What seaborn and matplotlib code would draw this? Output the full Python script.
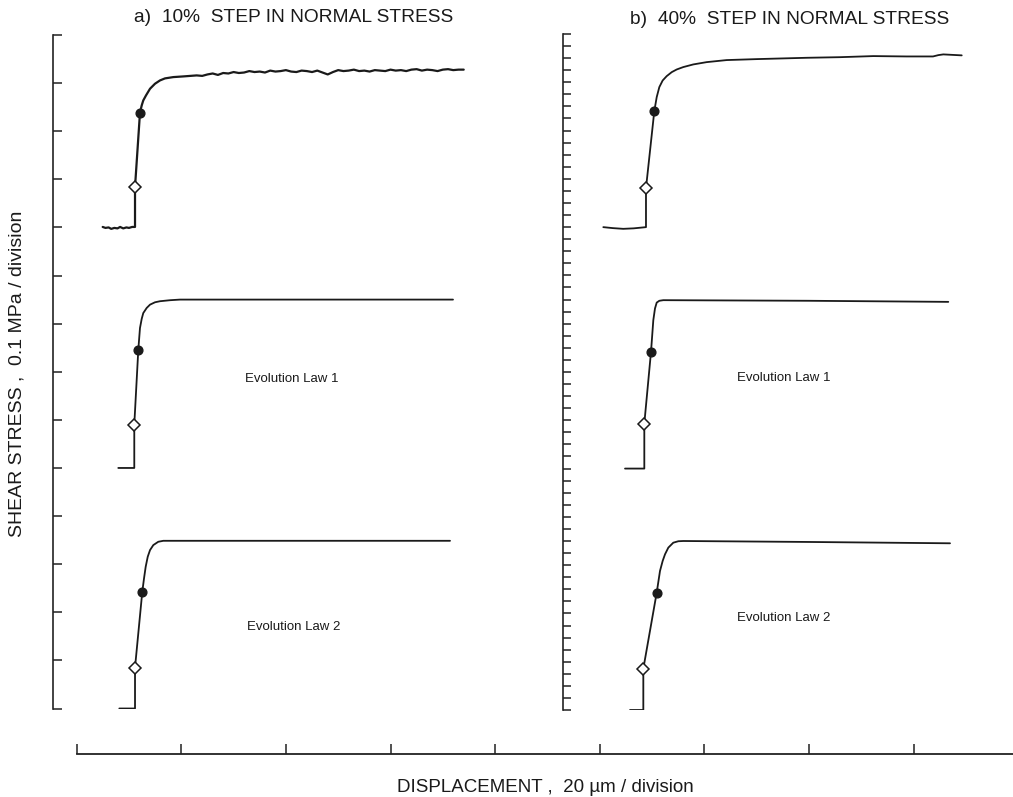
import numpy as np
import pandas as pd
import matplotlib
matplotlib.use("Agg")
import matplotlib.pyplot as plt
import seaborn as sns

# ---------------- data (displacement in µm, shear-stress change in MPa) ----------------
# Panel a) 10% step : experiment
a_exp_disp = [4.97, 5.5, 6.1, 6.6, 7.2, 7.8, 8.3, 8.9, 9.5, 10.0, 10.6, 11.15,
              11.15, 12.10, 12.43, 12.73, 13.25, 14.02, 14.97, 15.93, 16.88, 18.47, 20.38,
              22.94, 24.0,
              25, 26, 27, 28, 29, 30, 31, 32, 33, 34, 35, 36, 37, 38, 39, 40, 41, 42, 43,
              44, 45, 46, 47, 48, 49, 50, 51, 52, 53, 54, 55, 56, 57, 58, 59, 60, 61, 62,
              63, 64, 65, 66, 67, 68, 69, 70, 71, 72, 73, 74]
a_exp_dtau = [0.001, -0.001, 0.000, -0.003, -0.001, -0.002, 0.001, -0.002, 0.000, -0.001, 0.001, 0.001,
              0.084, 0.2385, 0.2536, 0.2640, 0.2744, 0.2883, 0.2987, 0.3056, 0.3098, 0.3125, 0.3139,
              0.316, 0.315,
              0.318, 0.320, 0.317, 0.321, 0.320, 0.323, 0.321, 0.322, 0.325, 0.323, 0.324,
              0.322, 0.326, 0.324, 0.325, 0.327, 0.324, 0.323, 0.326, 0.325, 0.323, 0.326,
              0.322, 0.318, 0.323, 0.327, 0.325, 0.326, 0.328, 0.325, 0.326, 0.324, 0.327,
              0.326, 0.325, 0.328, 0.326, 0.327, 0.325, 0.328, 0.329, 0.326, 0.328, 0.327,
              0.325, 0.328, 0.329, 0.327, 0.328, 0.328]
a_exp_mark_disp = [11.15, 12.10]
a_exp_mark_dtau = [0.084, 0.2385]

# Panel a) : evolution law 1
a_law1_disp = [7.95, 11.01, 11.01, 11.78, 12.10, 12.43, 12.73, 13.38, 14.02, 14.97,
               15.93, 17.84, 19.75, 40.0, 71.95]
a_law1_dtau = [0.0, 0.0, 0.090, 0.246, 0.291, 0.310, 0.322, 0.3326, 0.3395, 0.3444,
               0.3466, 0.3487, 0.350, 0.350, 0.350]
a_law1_mark_disp = [11.01, 11.78]
a_law1_mark_dtau = [0.090, 0.246]

# Panel a) : evolution law 2
a_law2_disp = [8.15, 11.15, 11.15, 12.54, 12.87, 13.19, 13.58, 14.02, 14.65, 15.60,
               16.56, 40.0, 71.38]
a_law2_dtau = [0.0, 0.0, 0.0852, 0.2426, 0.2703, 0.2946, 0.3154, 0.3293, 0.3397, 0.3466,
               0.3486, 0.3486, 0.3486]
a_law2_mark_disp = [11.15, 12.54]
a_law2_mark_dtau = [0.0852, 0.2426]

# Panel b) 40% step : experiment
b_exp_disp = [100.69, 102.5, 104.5, 106.5, 108.85, 108.85, 110.44, 110.90, 111.40, 112.04,
              112.81, 113.77, 114.72, 115.98, 117.90, 120.46, 124.28, 130.02, 139.58,
              145.95, 152.31, 158.70, 163.73, 164.75, 165.70, 169.22]
b_exp_dtau = [0.0, -0.008, -0.014, -0.010, 0.0, 0.323, 0.961, 1.077, 1.160, 1.215,
              1.251, 1.284, 1.306, 1.326, 1.348, 1.367, 1.384, 1.392, 1.403,
              1.408, 1.417, 1.414, 1.414, 1.425, 1.431, 1.423]
b_exp_mark_disp = [108.85, 110.44]
b_exp_mark_dtau = [0.323, 0.961]

# Panel b) : evolution law 1
b_law1_disp = [104.84, 108.53, 108.53, 109.81, 110.25, 110.57, 110.90, 111.40, 112.16,
               140.0, 166.65]
b_law1_dtau = [0.0, 0.0, 0.373, 0.967, 1.229, 1.326, 1.375, 1.390, 1.395, 1.390, 1.381]
b_law1_mark_disp = [108.53, 109.81]
b_law1_mark_dtau = [0.373, 0.967]

# Panel b) : evolution law 2
b_law2_disp = [105.80, 108.34, 108.34, 110.90, 111.53, 112.04, 112.49, 113.12, 114.07,
               115.03, 115.98, 140.0, 166.98]
b_law2_dtau = [0.0, 0.0, 0.342, 0.972, 1.152, 1.235, 1.290, 1.345, 1.386, 1.398, 1.400,
               1.392, 1.381]
b_law2_mark_disp = [108.34, 110.90]
b_law2_mark_dtau = [0.342, 0.972]

panel_titles = ["a)  10%  STEP IN NORMAL STRESS", "b)  40%  STEP IN NORMAL STRESS"]
law_labels = ["Evolution Law 1", "Evolution Law 2"]
x_label = "DISPLACEMENT ,  20 \u00b5m / division"
y_label = "SHEAR STRESS ,  0.1 MPa / division"

# ---------------- layout ----------------
sns.set_theme(style="ticks")
plt.rcParams["font.family"] = ["Liberation Sans", "DejaVu Sans"]

W, H, DPI = 1013, 797, 100
fig = plt.figure(figsize=(W / DPI, H / DPI), dpi=DPI)
fig.patch.set_facecolor("white")

X0 = 76.7      # pixel of displacement 0 on bottom axis
PXU = 5.23     # pixels per µm


def px_ax(left, top, right, bottom):
    return fig.add_axes([left / W, (H - bottom) / H, (right - left) / W, (bottom - top) / H])


def xl(left, right):
    return ((left - X0) / PXU, (right - X0) / PXU)


axA = px_ax(52.5, 35, 520, 708.5)
axB = px_ax(563, 34, 1013, 710)
axX = px_ax(X0, 744, 1013, 754)

for ax in (axA, axB, axX):
    ax.set_facecolor("none")
    for s in ax.spines.values():
        s.set_visible(False)
    ax.set_xticks([])
    ax.set_yticks([])

axA.set_xlim(*xl(52.5, 520))
axA.set_ylim(0, 1.4)
axB.set_xlim(*xl(563, 1013))
axB.set_ylim(0, 5.6)
axX.set_xlim(*xl(X0, 1013))
axX.set_ylim(0, 1)

for ax, ymax, tlen in ((axA, 1.4, 6.5), (axB, 5.6, 5.5)):
    ax.spines["left"].set_visible(True)
    ax.spines["left"].set_linewidth(1.2)
    ax.spines["left"].set_color("#222222")
    ax.set_yticks(np.round(np.arange(0, ymax + 1e-6, 0.1), 2))
    ax.tick_params(axis="y", direction="in", length=tlen, width=1.1, color="#222222",
                   left=True, labelleft=False)

axX.spines["bottom"].set_visible(True)
axX.spines["bottom"].set_linewidth(1.3)
axX.spines["bottom"].set_color("#222222")
axX.set_xticks(np.arange(0, 161, 20))
axX.tick_params(axis="x", direction="in", length=7, width=1.1, color="#222222",
                bottom=True, labelbottom=False)

A_OFF = [1.0, 0.5, 0.0]
B_OFF = [4.0, 2.0, 0.0]

traces = [
    (axA, a_exp_disp, a_exp_dtau, a_exp_mark_disp, a_exp_mark_dtau, A_OFF[0], 1.6),
    (axA, a_law1_disp, a_law1_dtau, a_law1_mark_disp, a_law1_mark_dtau, A_OFF[1], 1.3),
    (axA, a_law2_disp, a_law2_dtau, a_law2_mark_disp, a_law2_mark_dtau, A_OFF[2], 1.3),
    (axB, b_exp_disp, b_exp_dtau, b_exp_mark_disp, b_exp_mark_dtau, B_OFF[0], 1.3),
    (axB, b_law1_disp, b_law1_dtau, b_law1_mark_disp, b_law1_mark_dtau, B_OFF[1], 1.3),
    (axB, b_law2_disp, b_law2_dtau, b_law2_mark_disp, b_law2_mark_dtau, B_OFF[2], 1.3),
]

for ax, d, t, md, mt, off, lw in traces:
    df = pd.DataFrame({"disp": d, "tau": np.asarray(t) + off})
    sns.lineplot(data=df, x="disp", y="tau", ax=ax, sort=False, estimator=None,
                 color="#1a1a1a", linewidth=lw)
    ax.plot(md[0], mt[0] + off, marker="D", markersize=6.3, markerfacecolor="white",
            markeredgecolor="#1a1a1a", markeredgewidth=1.1, linestyle="none", zorder=5)
    ax.plot(md[1], mt[1] + off, marker="o", markersize=6.3, markerfacecolor="#1a1a1a",
            markeredgecolor="#1a1a1a", linestyle="none", zorder=5)
    ax.set_xlabel("")
    ax.set_ylabel("")

# law labels
axA.text(41.1, 0.684, law_labels[0], ha="center", va="center", fontsize=9.5, color="#1a1a1a")
axA.text(41.4, 0.169, law_labels[1], ha="center", va="center", fontsize=9.5, color="#1a1a1a")
axB.text(135.1, 2.753, law_labels[0], ha="center", va="center", fontsize=9.5, color="#1a1a1a")
axB.text(135.2, 0.765, law_labels[1], ha="center", va="center", fontsize=9.5, color="#1a1a1a")

# titles and axis labels
fig.text(294 / W, 1 - 17 / H, panel_titles[0], ha="center", va="center", fontsize=13.8,
         color="#1a1a1a")
fig.text(790 / W, 1 - 19 / H, panel_titles[1], ha="center", va="center", fontsize=13.8,
         color="#1a1a1a")
fig.text(545 / W, 1 - 787 / H, x_label, ha="center", va="center", fontsize=13.5,
         color="#1a1a1a")
fig.text(17.5 / W, 1 - 374 / H, y_label, ha="center", va="center", rotation=90,
         fontsize=14, color="#1a1a1a")

fig.savefig("out.png", dpi=DPI, facecolor="white")
